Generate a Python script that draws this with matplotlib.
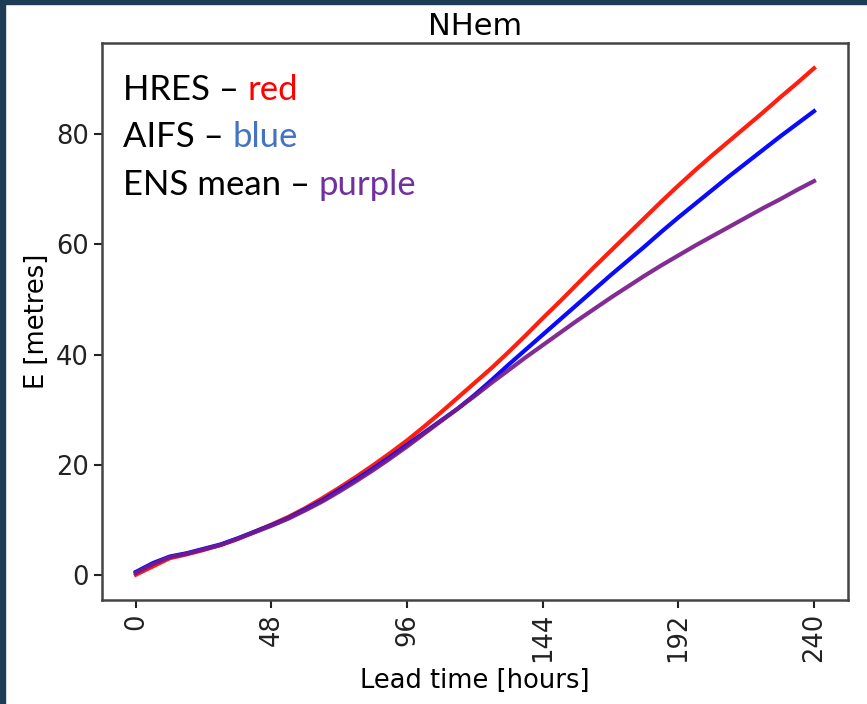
import numpy as np
import matplotlib as mpl
mpl.use('Agg')
import matplotlib.pyplot as plt
from matplotlib.patches import Rectangle

# lead time every 6 hours
lead = np.arange(0, 241, 6)

hres = [0.0, 1.5, 3.0, 3.7, 4.5, 5.4, 6.5, 7.8, 9.1, 10.5, 12.1, 13.9, 15.8, 17.8,
        19.9, 22.1, 24.4, 26.9, 29.5, 32.2, 34.9, 37.6, 40.5, 43.5, 46.6, 49.6,
        52.7, 55.8, 58.8, 61.8, 64.8, 67.8, 70.7, 73.5, 76.2, 78.8, 81.4, 84.0,
        86.7, 89.3, 92.0]
aifs = [0.5, 2.1, 3.3, 3.9, 4.7, 5.5, 6.6, 7.8, 9.0, 10.3, 11.9, 13.5, 15.4, 17.3,
        19.3, 21.4, 23.6, 25.8, 28.0, 30.2, 32.7, 35.4, 38.2, 40.9, 43.6, 46.3,
        49.0, 51.7, 54.4, 57.0, 59.6, 62.3, 64.9, 67.4, 69.9, 72.4, 74.8, 77.2,
        79.6, 81.9, 84.2]
ens = [0.3, 1.9, 3.2, 3.8, 4.6, 5.4, 6.5, 7.7, 8.9, 10.2, 11.7, 13.3, 15.1, 17.0,
       19.0, 21.1, 23.3, 25.6, 27.9, 30.2, 32.5, 34.9, 37.2, 39.5, 41.7, 43.9,
       46.1, 48.2, 50.3, 52.3, 54.3, 56.2, 58.0, 59.8, 61.5, 63.2, 64.9, 66.6,
       68.2, 69.9, 71.5]

xticks = [0, 48, 96, 144, 192, 240]

fontsize = 18.5
fig = plt.figure(figsize=(8.67, 7.04), dpi=100)
ax = fig.add_axes([0.1176, 0.1477, 0.8604, 0.7913])

ax.plot(lead, hres, color='#ff1f0f', linewidth=3)
ax.plot(lead, aifs, color='#0a0aff', linewidth=3)
ax.plot(lead, ens, color='#781a8a', linewidth=3, alpha=0.92)

ax.set_xticks(xticks)
ax.set_xticklabels([str(t) for t in xticks], rotation=90)
ax.tick_params(axis='both', labelsize=fontsize, length=6, width=1.5, colors='#222222')
for sp in ax.spines.values():
    sp.set_linewidth(1.8)
    sp.set_color('#444444')

ax.set_title('NHem', fontsize=22, pad=6)
ax.set_xlabel('Lead time [hours]', fontsize=fontsize, labelpad=4)
ax.set_ylabel('E [metres]', fontsize=fontsize)

# coloured key written inside the axes
lines = [('HRES \u2013 ', 'red', '#ff0000'),
         ('AIFS \u2013 ', 'blue', '#4472c4'),
         ('ENS mean \u2013 ', 'purple', '#7030a0')]
ypos = [0.898, 0.813, 0.727]
for (lab, col, c), yy in zip(lines, ypos):
    t = ax.text(0.028, yy, lab, transform=ax.transAxes, fontsize=25,
                family=['Lato', 'DejaVu Sans'], color='black', va='baseline')
    ax.annotate(col, xy=(1, 0), xycoords=t, fontsize=25, va='bottom',
                family=['Lato', 'DejaVu Sans'], color=c)

# dark frame of the screenshot
navy = '#1f3c56'
fig.patches.append(Rectangle((0, 0), 5 / 867, 1, transform=fig.transFigure,
                             color=navy, zorder=10))
fig.patches.append(Rectangle((0, 1 - 4 / 704), 1, 4 / 704, transform=fig.transFigure,
                             color=navy, zorder=10))

plt.savefig('out.png', dpi=100)
